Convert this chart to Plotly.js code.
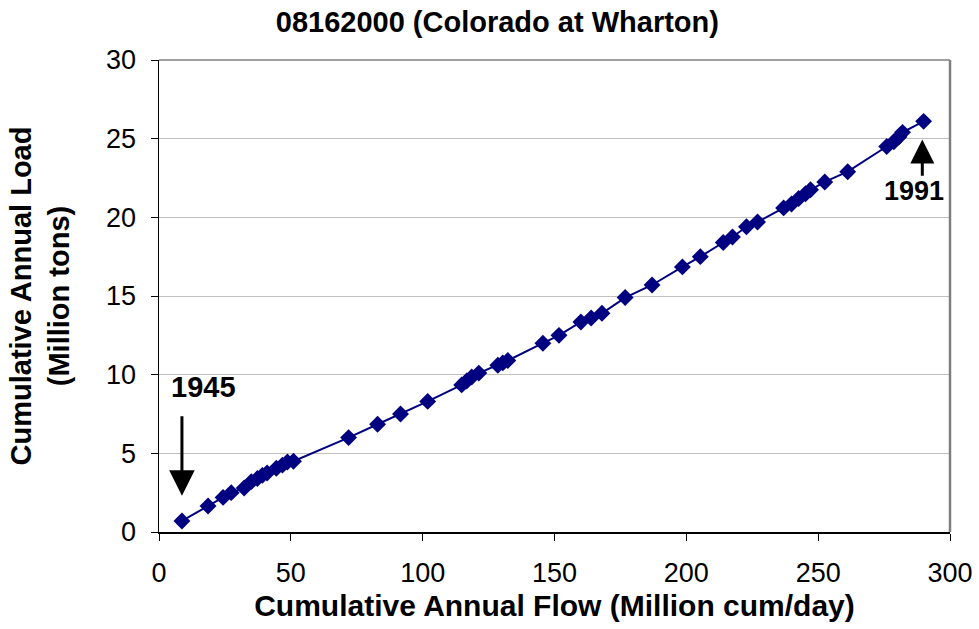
<!DOCTYPE html>
<html>
<head>
<meta charset="utf-8">
<script src="https://cdn.plot.ly/plotly-3.0.1.min.js"></script>
<style>html,body{margin:0;padding:0;background:#fff;}#chart{width:979px;height:629px;}</style>
</head>
<body>
<div id="chart"></div>
<script>
const chartTitle = "08162000 (Colorado at Wharton)";
const xTitle = "Cumulative Annual Flow (Million cum/day)";
const yTitle = "Cumulative Annual Load<br>(Million tons)";

const cumFlow = [8.7, 18.6, 24.3, 27.4, 32.3, 35.0, 37.3, 39.2, 41.0, 44.5, 46.8, 48.7, 51.0,
  71.9, 82.9, 91.6, 101.9, 114.8, 116.7, 118.6, 121.3, 128.5, 130.4, 132.3, 145.6, 151.7,
  160.0, 163.9, 168.0, 176.8, 187.0, 198.5, 205.3, 214.0, 217.5, 222.8, 227.0, 236.9,
  239.9, 242.6, 245.2, 247.1, 252.5, 261.2, 276.0, 278.7, 280.6, 282.0, 290.0];
const cumLoad = [0.7, 1.65, 2.2, 2.5, 2.8, 3.2, 3.4, 3.6, 3.75, 4.05, 4.25, 4.45, 4.5,
  6.0, 6.85, 7.5, 8.3, 9.35, 9.6, 9.85, 10.1, 10.6, 10.75, 10.9, 12.0, 12.5,
  13.35, 13.6, 13.9, 14.9, 15.7, 16.85, 17.5, 18.4, 18.75, 19.4, 19.7, 20.6,
  20.85, 21.2, 21.5, 21.75, 22.25, 22.9, 24.5, 24.8, 25.1, 25.4, 26.1];

const startLabel = "1945";
const endLabel = "1991";

const trace = {
  x: cumFlow, y: cumLoad, type: "scatter", mode: "lines+markers",
  line: {color: "#000080", width: 2},
  marker: {symbol: "diamond", size: 13, color: "#000080"},
  hoverinfo: "x+y"
};

const layout = {
  width: 979, height: 629,
  paper_bgcolor: "#fff", plot_bgcolor: "#fff",
  margin: {l: 159, r: 29, t: 60, b: 97},
  font: {family: "Liberation Sans, Arial, sans-serif", color: "#000"},
  title: {text: "<b>" + chartTitle + "</b>", x: 0.508, xanchor: "center", y: 0.965, yanchor: "middle",
          font: {size: 29, color: "#000"}},
  showlegend: false,
  xaxis: {
    range: [0, 300], dtick: 50, tick0: 0, showgrid: false, zeroline: false, automargin: false,
    showline: true, linecolor: "#000", linewidth: 1.5, mirror: false,
    ticks: "outside", ticklen: 7, tickcolor: "#000", tickwidth: 1, ticklabelstandoff: 9,
    tickfont: {size: 27, color: "#000"},
    title: {text: "<b>" + xTitle + "</b>", font: {size: 30, color: "#000"}, standoff: 8}
  },
  yaxis: {
    range: [0, 30], dtick: 5, tick0: 0, showgrid: true, gridcolor: "#c0c0c0", gridwidth: 1,
    zeroline: false, showline: true, linecolor: "#000", linewidth: 1.5, automargin: false,
    ticks: "outside", ticklen: 7, tickcolor: "#000", tickwidth: 1, ticklabelstandoff: 9,
    tickfont: {size: 27, color: "#000"},
    title: {text: "<b>" + yTitle + "</b>", font: {size: 29, color: "#000"}, standoff: 28}
  },
  shapes: [
    {type: "line", xref: "paper", yref: "paper", x0: 0, x1: 1, y0: 1, y1: 1, line: {color: "#808080", width: 1.5}},
    {type: "line", xref: "paper", yref: "paper", x0: 1, x1: 1, y0: 0, y1: 1, line: {color: "#808080", width: 2.5}}
  ],
  annotations: [
    {x: cumFlow[0], y: 2.3, ax: cumFlow[0], ay: 7.45, xref: "x", yref: "y", axref: "x", ayref: "y",
     text: "", showarrow: true, arrowhead: 2, arrowsize: 1.7, arrowwidth: 3, arrowcolor: "#000"},
    {x: 16.7, y: 9.2, xref: "x", yref: "y", text: "<b>" + startLabel + "</b>", showarrow: false,
     font: {size: 29, color: "#000"}},
    {x: 289.5, y: 24.95, ax: 289.5, ay: 22.55, xref: "x", yref: "y", axref: "x", ayref: "y",
     text: "", showarrow: true, arrowhead: 2, arrowsize: 1.6, arrowwidth: 3, arrowcolor: "#000"},
    {x: 286.5, y: 21.7, xref: "x", yref: "y", text: "<b>" + endLabel + "</b>", showarrow: false,
     font: {size: 27, color: "#000"}}
  ]
};

Plotly.newPlot("chart", [trace], layout, {displayModeBar: false, staticPlot: true});
</script>
</body>
</html>
